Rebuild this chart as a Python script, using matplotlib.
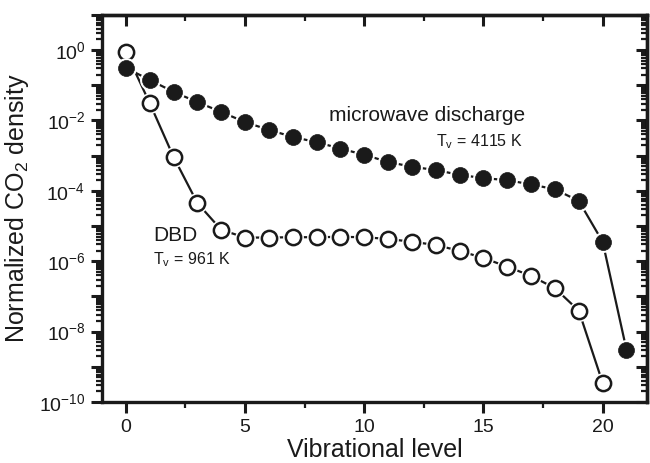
import matplotlib
matplotlib.use("Agg")
import matplotlib.pyplot as plt
import numpy as np
from matplotlib.ticker import LogLocator, FuncFormatter, MultipleLocator, NullFormatter

plt.rcParams['font.family'] = ['Liberation Sans', 'DejaVu Sans']
plt.rcParams['mathtext.fontset'] = 'custom'
plt.rcParams['mathtext.rm'] = 'Liberation Sans'
plt.rcParams['mathtext.it'] = 'Liberation Sans:italic'
plt.rcParams['mathtext.bf'] = 'Liberation Sans:bold'

# ---- data ----
levels_mw = list(range(0, 22))
log_mw = [-0.51, -0.85, -1.19, -1.48, -1.76, -2.05, -2.27, -2.47, -2.62, -2.80,
          -2.98, -3.18, -3.32, -3.41, -3.55, -3.64, -3.70, -3.82, -3.96, -4.29,
          -5.45, -8.52]
mw = [10 ** v for v in log_mw]

levels_dbd = list(range(0, 21))
log_dbd = [-0.06, -1.51, -3.04, -4.35, -5.11, -5.33, -5.33, -5.32, -5.32, -5.31,
           -5.32, -5.37, -5.45, -5.54, -5.71, -5.91, -6.16, -6.42, -6.77, -7.41,
           -9.46]
dbd = [10 ** v for v in log_dbd]

xticks = [0, 5, 10, 15, 20]

INK = '#1a1a1a'

fig = plt.figure(figsize=(6.5, 4.63), dpi=100)
ax = fig.add_axes([0.157, 0.132, 0.838, 0.836])

ms = 11.5
# DBD (open circles)
ax.plot(levels_dbd, dbd, '-', color=INK, lw=1.6, zorder=2)
ax.plot(levels_dbd, dbd, 'o', ms=ms + 3.5, mfc='white', mec='white', mew=0, zorder=3)
ax.plot(levels_dbd, dbd, 'o', ms=ms - 0.5, mfc='white', mec=INK, mew=1.8, zorder=4)
# microwave (filled)
ax.plot(levels_mw, mw, '-', color=INK, lw=1.6, zorder=2)
ax.plot(levels_mw, mw, 'o', ms=ms + 3.5, mfc='white', mec='white', mew=0, zorder=5)
ax.plot(levels_mw, mw, 'o', ms=ms, mfc=INK, mec=INK, mew=0.5, zorder=6)

ax.set_yscale('log')
ax.set_xlim(-1, 21.85)
ax.set_ylim(1e-10, 1e1)

def yfmt(v, pos):
    e = int(round(np.log10(v)))
    if e % 2 != 0 or e > 0:
        return ''
    return r'$\mathregular{10^{%d}}$' % e

ax.yaxis.set_major_locator(LogLocator(base=10, numticks=30))
ax.yaxis.set_major_formatter(FuncFormatter(yfmt))
ax.yaxis.set_minor_locator(LogLocator(base=10, subs=np.arange(2, 10), numticks=30))
ax.yaxis.set_minor_formatter(NullFormatter())
ax.set_xticks(xticks)
ax.xaxis.set_minor_locator(MultipleLocator(2.5))

for s in ax.spines.values():
    s.set_linewidth(2.4)
    s.set_color(INK)

ax.tick_params(which='major', direction='out', length=8, width=2.2, labelsize=14,
               colors=INK, pad=4)
ax.tick_params(which='minor', direction='out', length=4.5, width=1.6, colors=INK)

secx = ax.secondary_xaxis('top')
secx.set_xticks(xticks)
secx.xaxis.set_minor_locator(MultipleLocator(2.5))
secx.tick_params(which='major', direction='in', length=8, width=2.2, labeltop=False, colors=INK)
secx.tick_params(which='minor', direction='in', length=4.5, width=1.6, colors=INK)
secx.spines['top'].set_linewidth(2.4)

secy = ax.secondary_yaxis('right')
secy.yaxis.set_major_locator(LogLocator(base=10, numticks=30))
secy.yaxis.set_minor_locator(LogLocator(base=10, subs=np.arange(2, 10), numticks=30))
secy.yaxis.set_minor_formatter(NullFormatter())
secy.tick_params(which='major', direction='in', length=8, width=2.2, labelright=False, colors=INK)
secy.tick_params(which='minor', direction='in', length=4.5, width=1.6, colors=INK)
secy.spines['right'].set_linewidth(2.4)

ax.set_xlabel('Vibrational level', fontsize=18, color=INK, labelpad=2)
ax.set_ylabel(r'Normalized CO$_\mathregular{2}$ density', fontsize=18, color=INK, labelpad=6)

ax.text(8.5, 10 ** -1.87, 'microwave discharge', fontsize=15, color=INK, ha='left', va='center')
ax.text(13.0, 10 ** -2.6, r'T$_\mathregular{v}$ = 4115 K', fontsize=11.5, color=INK, ha='left', va='center')
ax.text(1.15, 10 ** -5.28, 'DBD', fontsize=15, color=INK, ha='left', va='center')
ax.text(1.15, 10 ** -5.95, r'T$_\mathregular{v}$ = 961 K', fontsize=11.5, color=INK, ha='left', va='center')

fig.savefig('out.png', dpi=100, facecolor='white')
